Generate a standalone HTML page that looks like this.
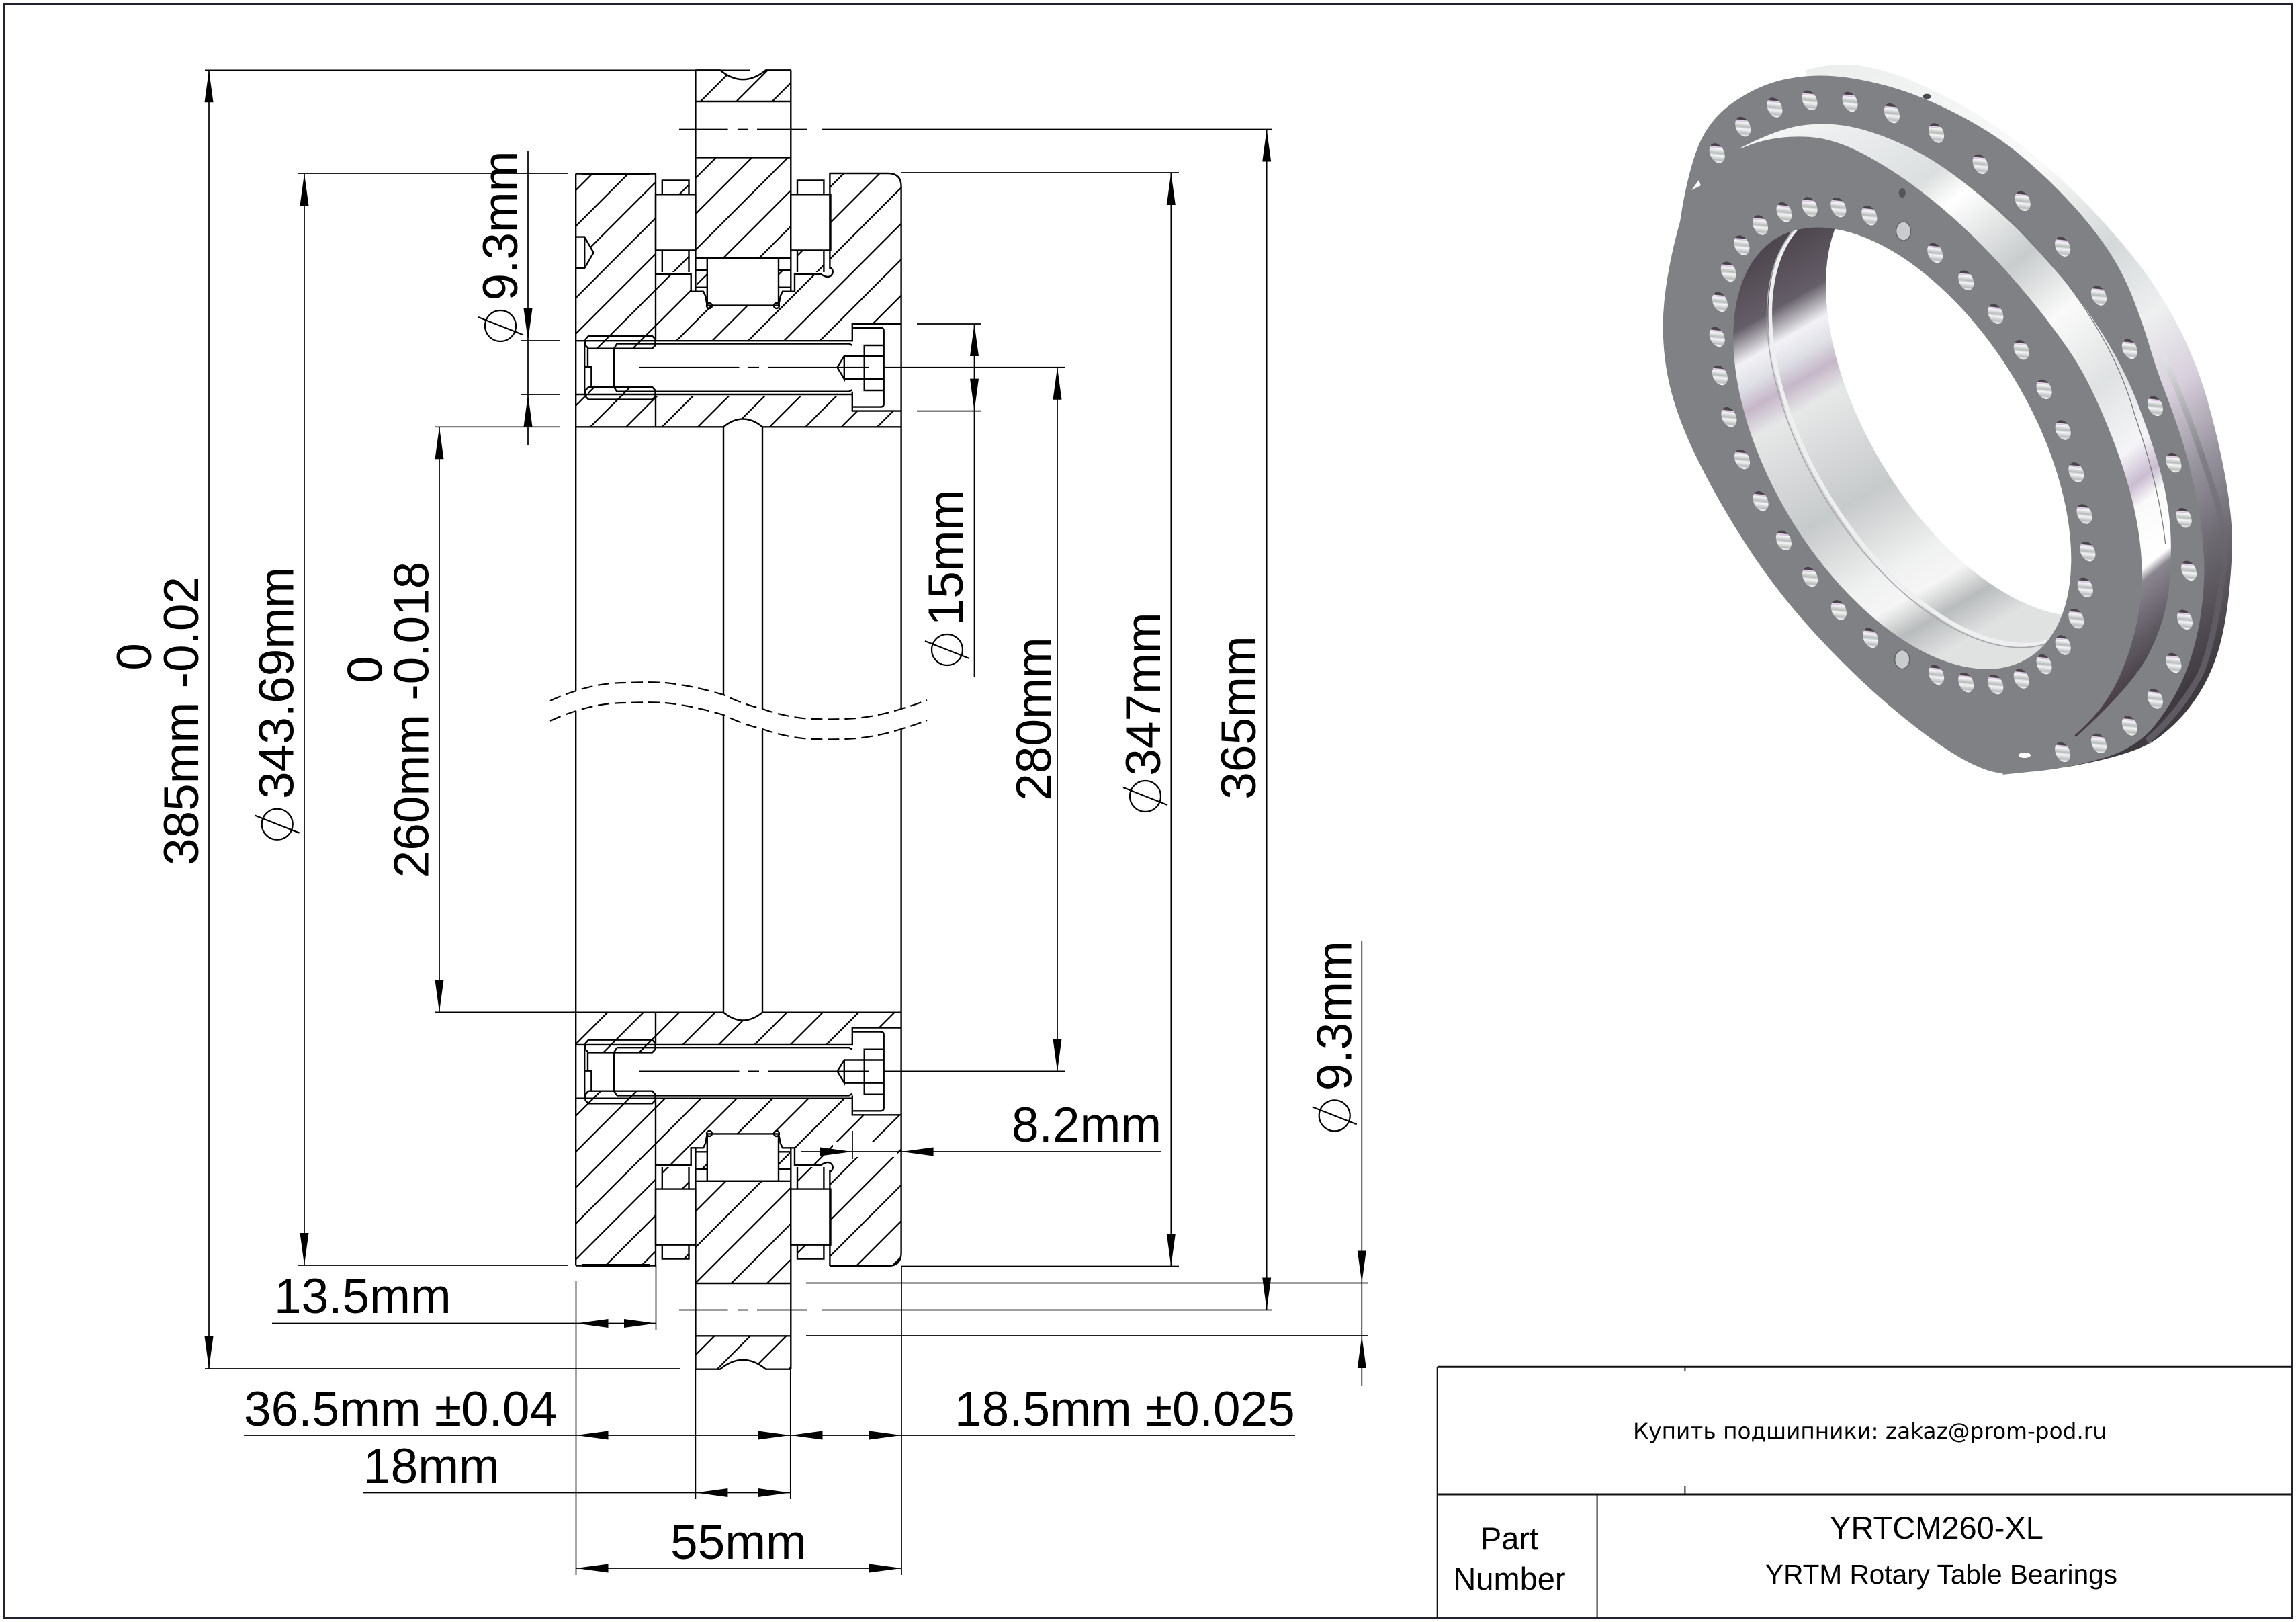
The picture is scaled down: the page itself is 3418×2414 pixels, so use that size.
<!DOCTYPE html>
<html><head><meta charset="utf-8"><title>YRTCM260-XL</title>
<style>
html,body{margin:0;padding:0;background:#fff}
svg{display:block}
text{font-family:"Liberation Sans",sans-serif;fill:#000}
.o{fill:none;stroke:#000;stroke-width:2.4}
.d{fill:none;stroke:#000;stroke-width:1.7}
.t{font-size:73px}
</style></head><body>
<svg xmlns="http://www.w3.org/2000/svg" width="3418" height="2414" viewBox="0 0 3418 2414">
<defs>
<path id="a" d="M0 0L-6.5 48H6.5Z" fill="#000"/>
<g id="phi" fill="none" stroke="#000" stroke-width="2.2"><circle r="23"/><path d="M-33 -13L33 13"/></g>
<clipPath id="ct"><path d="M1035.4 104.3H1072Q1106 132 1140 104.3H1177.3V151H1035.4Z M1035.4 234.4H1177.3V384.2H1035.4Z M1037 402H1052V427H1037Z M1160 402H1176V427H1160Z M986 268.4H1025.5V289.3H986Z M986 372.4H1025.5V405H986Z M1187 372.4H1226V405H1187Z M857.2 258.5H976V519H871V507H857.2V399H870.2L883.6 376L870.2 352.6H857.2Z M976 408H1028.7V433.7H1048L1052.8 454.6H1159L1165 433.7H1183V408H1236V258H1322Q1341.6 258 1341.6 277.5V481.9H1268.8V507H976Z M857.2 587H876V576H976V590H1268.8V611.6H1341.6V635.3H1135Q1106 611.7 1077 635.3H857.2Z"/></clipPath>
<clipPath id="cb"><path d="M857.2 1506.5H1077Q1106 1530 1135 1506.5H1341.6V1530.4H1268.8V1554.5H976V1565H871V1554.5H857.2Z M857.2 1634.4H876V1623H976V1883H857.2Z M976 1634.4H1268.8V1660.5H1341.6V1865Q1341.6 1885 1322 1885H1235.4V1733.6H1183V1709H1165L1159 1687H1053L1048 1709H1028.7V1733.6H976Z M1035.4 1757.3H1177.3V1910H1035.4Z M1035.4 1988.3H1177.3V2038H1140Q1106 2011 1072 2038H1035.4Z M986 1737H1025V1770H986Z M1187 1737H1226V1770H1187Z M986 1852H1025V1873H986Z M1187 1852H1226V1873H1187Z M1037 1715H1052V1740H1037Z M1160 1715H1176V1740H1160Z"/></clipPath>
<g id="brg" class="o">
<path d="M976 258.5V507M976 587V635.3M857.2 258.5H976M1235.4 258V400M1235.4 258H1322Q1341.6 258 1341.6 277.5"/>
<path d="M976 289.3H1035.4V372.4H976ZM1177.3 289.3H1236.5V372.4H1177.3Z"/>
<path d="M985.8 289.3V268.4H1025.5V289.3M1187 289.3V268.4H1226.4V289.3M985.8 372.4V405M1025.5 372.4V405M1187 372.4V405M1226.4 372.4V405"/>
<path d="M976 408H1028.7V433.7H1047L1050 440L1052.8 454.6M1159 454.6L1162 440L1165 433.7H1183V408H1222Q1228 412 1232 412A7.5 7.5 0 0 0 1236 398"/>
<path d="M1052.8 384.2H1159V454.6H1052.8Z"/>
<path d="M1035.4 384.2H1177.3M1035.4 402H1052.8M1159 402H1177.3M1035.4 427.7H1052.8M1159 427.7H1177.3"/>
<path d="M1035.4 104.3V433.7M1177.3 104.3V433.7M1035.4 104.3H1072Q1106 132 1140 104.3H1177.3"/>
<circle cx="1056" cy="455" r="4"/><circle cx="1156" cy="455" r="4"/>
<path d="M857.2 635.3H1077Q1106 611.7 1135 635.3H1341.6"/>
<path d="M867 259H967" stroke-width="4"/>
</g>
<g id="blt">
<g class="o">
<path d="M857.2 507.2H1268.8V481.9H1341.6M857.2 587H1268.8M1268.8 582.7V611.6H1341.6"/>
<path d="M918.4 511.5H1264L1268.8 514M918.4 582.7H1264L1268.8 580M914 518.7V576M914 518.7L918.4 511.5M914 576L918.4 582.7"/>
<path d="M871.5 505L876 500H971L975.5 505V514L971 518.7H876L871.5 514ZM871.5 581L876 576H971L975.5 581V590L971 594.6H876L871.5 590Z"/>
<path d="M870.2 507.2V587M875 518.7V546M870.2 546H880.4V576"/>
<path d="M1270 487.8H1311Q1315.7 487.8 1315.7 492.5V601Q1315.7 605.6 1311 605.6H1270"/>
<path d="M1315.7 514H1286.7V581H1315.7M1256.8 529.8H1315.7M1256.8 564H1315.7M1256.8 529.8V564L1246.5 546.7L1256.8 529.8"/>
</g>
<path class="d" d="M952 546.7H1100.5M1114 546.7H1130M1144 546.7H1293"/>
</g>
<linearGradient id="rimG" gradientUnits="userSpaceOnUse" x1="500" y1="60" x2="1400" y2="1350">
<stop offset="0" stop-color="#eceeee"/><stop offset=".3" stop-color="#fafafa"/><stop offset=".45" stop-color="#d4d8d8"/><stop offset=".56" stop-color="#eef0f0"/><stop offset=".66" stop-color="#d8d0dc"/><stop offset=".76" stop-color="#9a96a0"/><stop offset=".86" stop-color="#6e6a72"/><stop offset="1" stop-color="#3f3a40"/>
</linearGradient>
<linearGradient id="stripeG" gradientUnits="userSpaceOnUse" x1="1340" y1="660" x2="1480" y2="1140">
<stop offset="0" stop-color="#e2e4e6"/><stop offset=".45" stop-color="#808086"/><stop offset="1" stop-color="#5e5c62"/>
</linearGradient>
<linearGradient id="wallG" gradientUnits="userSpaceOnUse" x1="400" y1="180" x2="1250" y2="1400">
<stop offset="0" stop-color="#f4f6f6"/><stop offset=".2" stop-color="#dcdfdf"/><stop offset=".25" stop-color="#fff"/><stop offset=".38" stop-color="#c8cccc"/><stop offset=".48" stop-color="#fafafa"/><stop offset=".6" stop-color="#dfe2e2"/><stop offset=".7" stop-color="#f5f5f8"/><stop offset=".745" stop-color="#c9bcd0"/><stop offset=".775" stop-color="#fafafa"/><stop offset=".85" stop-color="#fff"/><stop offset=".865" stop-color="#8a8690"/><stop offset=".93" stop-color="#5f5a62"/><stop offset="1" stop-color="#3c3036"/>
</linearGradient>
<linearGradient id="boreG" gradientUnits="userSpaceOnUse" x1="380" y1="430" x2="800" y2="1280">
<stop offset="0" stop-color="#4e464e"/><stop offset=".13" stop-color="#645e68"/><stop offset=".2" stop-color="#f2f2f6"/><stop offset=".25" stop-color="#dfe0e6"/><stop offset=".3" stop-color="#c5b7c8"/><stop offset=".36" stop-color="#e6e8e8"/><stop offset=".6" stop-color="#c7caca"/><stop offset=".78" stop-color="#f0f1f1"/><stop offset=".85" stop-color="#f5f5f5"/><stop offset=".92" stop-color="#b9bcbc"/><stop offset="1" stop-color="#e0e2e2"/>
</linearGradient>
<linearGradient id="hg" x1="0" y1="0" x2="0" y2="1" gradientTransform="rotate(22 .5 .5)">
<stop offset="0" stop-color="#4a424a"/><stop offset=".14" stop-color="#4a424a"/><stop offset=".18" stop-color="#eee8f0"/><stop offset=".22" stop-color="#d0b8dc"/><stop offset=".27" stop-color="#f8f8f8"/><stop offset=".5" stop-color="#b8bcbc"/><stop offset=".62" stop-color="#f5f6f6"/><stop offset=".85" stop-color="#b9bdbd"/><stop offset="1" stop-color="#fff"/>
</linearGradient>
<ellipse id="h" rx="10.5" ry="15.5" transform="rotate(-25)" fill="url(#hg)"/>
<clipPath id="bc"><ellipse cx="705" cy="850" rx="536" ry="305" transform="rotate(51.4 705 850)"/></clipPath>
</defs>

<rect x="6" y="6" width="3406" height="2402" fill="none" stroke="#222230" stroke-width="2.4"/>

<!-- hatching -->
<g clip-path="url(#ct)"><line x1="489.3" y1="489.3" x2="1000" y2="1000" stroke="#000" stroke-width="2400" stroke-dasharray="2.2 35.56"/></g>
<g clip-path="url(#cb)"><line x1="1178.1" y1="1178.1" x2="1720" y2="1720" stroke="#000" stroke-width="2400" stroke-dasharray="2.2 35.56"/></g>
<rect x="1240" y="1700" width="95" height="22" fill="#fff"/>

<!-- section outlines -->
<use href="#brg"/>
<use href="#brg" transform="matrix(1 0 0 -1 0 2142)"/>
<use href="#blt"/>
<use href="#blt" transform="translate(0 1047.7)"/>
<path class="o" d="M857.2 352.6H870.2L883.6 376L870.2 399H857.2M870.2 352.6V399"/>
<path class="o" d="M1035.4 151H1177.3M1035.4 234.4H1177.3M1035.4 1910H1177.3M1035.4 1988.3H1177.3"/>
<path class="o" d="M857.2 258.5V1028M857.2 1059V1883.5M1077 635.3V1034M1077 1064V1506.7M1135 635.3V1055M1135 1086V1506.7M1341.6 277.5V1055M1341.6 1085V1864.5"/>
<g fill="none" stroke="#000" stroke-width="2.2" stroke-dasharray="17 8">
<path d="M819 1043Q838 1034 858 1028C885 1019 910 1016 932 1016C955 1015 975 1015 990 1016C1020 1019 1050 1026 1077 1034C1100 1045 1115 1050 1135 1055C1160 1064 1190 1070 1213 1070C1240 1071 1260 1070 1275.5 1069C1300 1066 1320 1062 1341.6 1055Q1362 1049 1380 1042"/>
<path d="M819 1073Q838 1064 858 1058C885 1049 910 1046 932 1046C955 1045 975 1045 990 1046C1020 1049 1050 1056 1077 1064C1100 1075 1115 1080 1135 1085C1160 1094 1190 1100 1213 1100C1240 1101 1260 1100 1275.5 1099C1300 1096 1320 1092 1341.6 1085Q1362 1079 1380 1072"/>
</g>

<!-- dimension lines -->
<path class="d" d="M305 104.3H1116M443 258H845M1342 257H1755M305 2037H1013M443 1883H845M1342 1884.5H1755M1200 1909.5H2037M1200 1988H2037
M776 507H834M776 587H834M647 635.3H834M647 1506.3H857
M1365 482H1461M1365 611.6H1461M1316 546.7H1585M1316 1594.4H1585
M1011 192.5H1083.6M1098 192.5H1114M1127 192.5H1201M1223 192.5H1894
M1011 1949.5H1083.6M1098 1949.5H1114M1127 1949.5H1201M1223 1949.5H1894
M311 104.3V2037M453 258V1883M654 635.3V1506.3M786 224V663M1450.5 482V1008M1574 546.7V1594.4M1743.3 257V1884.5M1885.7 192.5V1949.5M2027.3 1400V2063
M405 1969.5H977M857.5 1906V2344M976.5 1883V1979M363 2136H1928M540 2221.5H1176.5M1035.4 2037V2231M1176.8 2037V2231M857.5 2334H1342M1342 1884.5V2344
M1193 1714H1729M1269 1683V1725"/>

<!-- arrows -->
<use href="#a" transform="translate(311 104.3)"/><use href="#a" transform="translate(311 2037) rotate(180)"/>
<use href="#a" transform="translate(453 258)"/><use href="#a" transform="translate(453 1883) rotate(180)"/>
<use href="#a" transform="translate(654 635.3)"/><use href="#a" transform="translate(654 1506.3) rotate(180)"/>
<use href="#a" transform="translate(786 507) rotate(180)"/><use href="#a" transform="translate(786 587)"/>
<use href="#a" transform="translate(1450.5 482)"/><use href="#a" transform="translate(1450.5 611.6) rotate(180)"/>
<use href="#a" transform="translate(1574 546.7)"/><use href="#a" transform="translate(1574 1594.4) rotate(180)"/>
<use href="#a" transform="translate(1743.3 257)"/><use href="#a" transform="translate(1743.3 1884.5) rotate(180)"/>
<use href="#a" transform="translate(1885.7 192.5)"/><use href="#a" transform="translate(1885.7 1949.5) rotate(180)"/>
<use href="#a" transform="translate(2027.3 1909.5) rotate(180)"/><use href="#a" transform="translate(2027.3 1988)"/>
<use href="#a" transform="translate(857.5 1969.5) rotate(-90)"/><use href="#a" transform="translate(977 1969.5) rotate(90)"/>
<use href="#a" transform="translate(857.5 2136) rotate(-90)"/><use href="#a" transform="translate(1176.5 2136) rotate(90)"/>
<use href="#a" transform="translate(1176.5 2136) rotate(-90)"/><use href="#a" transform="translate(1342 2136) rotate(90)"/>
<use href="#a" transform="translate(1035.4 2221.5) rotate(-90)"/><use href="#a" transform="translate(1176.5 2221.5) rotate(90)"/>
<use href="#a" transform="translate(857.5 2334) rotate(-90)"/><use href="#a" transform="translate(1342 2334) rotate(90)"/>
<use href="#a" transform="translate(1269 1714) rotate(90)"/><use href="#a" transform="translate(1341.6 1714) rotate(-90)"/>

<!-- diameter symbols -->
<use href="#phi" x="745" y="485"/>
<use href="#phi" x="412.7" y="1226.7"/>
<use href="#phi" x="1410" y="967"/>
<use href="#phi" x="1705" y="1185"/>
<use href="#phi" x="1986.7" y="1660.4"/>

<!-- vertical labels -->
<g class="t" text-anchor="middle">
<text transform="translate(225 977.5) rotate(-90)">0</text>
<text transform="translate(295 1073) rotate(-90)">385mm -0.02</text>
<text transform="translate(436.7 1016.5) rotate(-90)">343.69mm</text>
<text transform="translate(568.3 996.7) rotate(-90)">0</text>
<text transform="translate(637.3 1071) rotate(-90)">260mm -0.018</text>
<text transform="translate(770 336) rotate(-90)">9.3mm</text>
<text transform="translate(1433 830) rotate(-90)">15mm</text>
<text transform="translate(1564 1070) rotate(-90)">280mm</text>
<text transform="translate(1727 1033) rotate(-90)">347mm</text>
<text transform="translate(1869 1068) rotate(-90)">365mm</text>
<text transform="translate(2011.7 1511.7) rotate(-90)">9.3mm</text>
</g>
<!-- horizontal labels -->
<g class="t">
<text x="408" y="1954">13.5mm</text>
<text x="363" y="2122">36.5mm ±0.04</text>
<text x="1421" y="2122">18.5mm ±0.025</text>
<text x="541" y="2207">18mm</text>
<text x="998" y="2320">55mm</text>
<text x="1506" y="1699">8.2mm</text>
</g>

<!-- title block -->
<path fill="none" stroke="#111" stroke-width="3" d="M2139.7 2034.3H3412M2139.7 2224H3412"/>
<path fill="none" stroke="#111" stroke-width="2" d="M2139.7 2034.3V2408M2377.6 2224V2408M2508.4 2034V2041M2508.4 2212V2224"/>
<text x="2431" y="2141" font-size="32" textLength="705" lengthAdjust="spacingAndGlyphs" style="font-family:'DejaVu Sans',sans-serif">Купить подшипники: zakaz@prom-pod.ru</text>
<g font-size="47" text-anchor="middle">
<text x="2247" y="2306">Part</text>
<text x="2247" y="2366">Number</text>
<text x="2883" y="2290">YRTCM260-XL</text>
</g>
<text x="2628" y="2357" font-size="41" textLength="524" lengthAdjust="spacingAndGlyphs">YRTM Rotary Table Bearings</text>

<!-- 3D ring -->
<g transform="translate(2400 60) scale(.6124 .7143)">
<path fill="url(#rimG)" d="M470 62Q520 50 560 50Q600 50 640 59Q700 70 800 112.5Q900 155 1000 222.5Q1100 290 1185 370Q1270 450 1315 507.5Q1360 565 1393 625.5Q1426 686 1448 753Q1470 820 1485 885Q1500 950 1505 1003Q1510 1056 1501 1138Q1492 1220 1472.5 1274.5Q1453 1329 1416.5 1374.5Q1380 1420 1325 1455Q1270 1490 1100 1515L700 800Z"/>
<path fill="none" stroke="url(#stripeG)" stroke-width="14" d="M1340 660Q1400 770 1470 960Q1500 1060 1480 1140Q1460 1260 1430 1320Q1380 1400 1300 1460"/>
<path fill="#7f8184" d="M165 378Q180 290 205 230Q230 170 290 132Q350 95 415 82Q480 70 545 75Q610 80 685 99Q760 118 845 156.5Q930 195 990 237.5Q1050 280 1105 330Q1160 380 1200 430Q1240 480 1265 535Q1290 590 1306.5 638Q1323 686 1346.5 738Q1370 790 1389.5 845Q1409 900 1422 960Q1435 1020 1438.5 1075.5Q1442 1131 1431 1195.5Q1420 1260 1395 1315Q1370 1370 1324.5 1421.5Q1279 1473 1199.5 1494Q1120 1515 1035 1522.5L950 1530L700 800Z"/>
<path fill="url(#wallG)" d="M310 225Q400 185 460 177.5Q520 170 580 180Q640 190 720 222.5Q800 255 900 327.5Q1000 400 1070 470Q1140 540 1193 613Q1246 686 1278 758Q1310 830 1330 890Q1350 950 1356 1010Q1362 1070 1353.5 1140Q1345 1210 1305 1277.5Q1265 1345 1127 1452L700 800Z"/>
<path fill="none" stroke="#77777c" stroke-width="2" d="M900 320Q1000 400 1100 500Q1225 640 1270 780Q1330 930 1345 1050"/>
<path fill="#7f8184" d="M252.5 253.5Q310 222 365 210Q420 198 480 201.5Q540 205 610 236.5Q680 268 750 314Q820 360 885 415Q950 470 1012.5 535Q1075 600 1117.5 655Q1160 710 1205 805Q1250 900 1270 980Q1290 1060 1287.5 1130Q1285 1200 1255 1277.5Q1225 1355 1176 1403.5Q1127 1452 1063.5 1486Q1000 1520 965 1526Q930 1532 865 1503.5Q800 1475 700 1405Q600 1335 500 1242.5Q400 1150 325 1050Q250 950 200 860Q150 770 134 695Q118 620 126.5 545Q135 470 165 377.5Q195 285 252.5 253.5Z"/>
<g clip-path="url(#bc)">
<rect x="150" y="300" width="1150" height="1100" fill="url(#boreG)"/>
<ellipse fill="none" stroke="#eef0f0" stroke-width="9" cx="795" cy="800" rx="536" ry="305" transform="rotate(51.4 795 800)"/>
<ellipse fill="none" stroke="#a8a6ac" stroke-width="2.5" cx="787" cy="805" rx="536" ry="305" transform="rotate(51.4 787 805)"/>
<ellipse fill="#fff" cx="930" cy="740" rx="536" ry="305" transform="rotate(51.4 930 740)"/>
</g>
</g>
<g>
<use href="#h" x="2556.2" y="227.9"/><use href="#h" x="2594.7" y="188.6"/><use href="#h" x="2641.9" y="160"/><use href="#h" x="2694" y="149.3"/><use href="#h" x="2754" y="151.4"/><use href="#h" x="2816.4" y="168.6"/><use href="#h" x="2882.6" y="197.9"/><use href="#h" x="2948.1" y="244.3"/><use href="#h" x="3011.2" y="299.3"/><use href="#h" x="3070.6" y="367.1"/><use href="#h" x="3124.5" y="440"/><use href="#h" x="3170.4" y="519.3"/><use href="#h" x="3208.4" y="604.3"/><use href="#h" x="3235.9" y="688.6"/><use href="#h" x="3251.2" y="770.7"/><use href="#h" x="3258.6" y="849.3"/><use href="#h" x="3252.5" y="922.2"/><use href="#h" x="3235.9" y="986.4"/><use href="#h" x="3208.4" y="1040"/><use href="#h" x="3170.4" y="1080"/><use href="#h" x="3124.5" y="1106.4"/><use href="#h" x="3070.6" y="1119.3"/>
<use href="#h" x="2782.8" y="320.7"/><use href="#h" x="2736.8" y="308.6"/><use href="#h" x="2694" y="307.9"/><use href="#h" x="2656" y="315.7"/><use href="#h" x="2620.5" y="335"/><use href="#h" x="2592.9" y="365"/><use href="#h" x="2573.3" y="404.3"/><use href="#h" x="2560.4" y="449.3"/><use href="#h" x="2556.2" y="501.4"/><use href="#h" x="2560.4" y="558.6"/><use href="#h" x="2573.9" y="620.7"/><use href="#h" x="2593.5" y="683.6"/><use href="#h" x="2621.1" y="745.7"/><use href="#h" x="2655.4" y="804.3"/><use href="#h" x="2694.6" y="858.6"/><use href="#h" x="2737.4" y="907.9"/><use href="#h" x="2784.6" y="949.3"/><use href="#h" x="2882.6" y="1004.3"/><use href="#h" x="2926.7" y="1015.7"/><use href="#h" x="2970.8" y="1018.6"/><use href="#h" x="3009.3" y="1010"/><use href="#h" x="3043" y="988.6"/><use href="#h" x="3071.2" y="960"/><use href="#h" x="3090.8" y="920.7"/><use href="#h" x="3104.3" y="874.3"/><use href="#h" x="3107.9" y="820.7"/><use href="#h" x="3103" y="765"/><use href="#h" x="3090.8" y="702.9"/><use href="#h" x="3071.2" y="640"/><use href="#h" x="3043" y="579.3"/><use href="#h" x="3009.3" y="520.7"/><use href="#h" x="2970.8" y="467.2"/><use href="#h" x="2926.7" y="417.2"/><use href="#h" x="2880.7" y="376.4"/>
<ellipse cx="3014" cy="1124" rx="9" ry="4" fill="#fff"/>
<ellipse cx="2831.7" cy="287" rx="5" ry="7" fill="#55525a"/>
<ellipse cx="2833.6" cy="344" rx="11" ry="14" fill="#c9cccc" stroke="#666" stroke-width="1.5"/>
<ellipse cx="2831.7" cy="981.5" rx="11" ry="14" fill="#c9cccc" stroke="#666" stroke-width="1.5"/>
<ellipse cx="2868.5" cy="143.6" rx="6" ry="4" fill="#4a484c"/>
<path d="M2518 283L2529 268L2532 276Z" fill="#fff"/>
</g>
</svg>
</body></html>
